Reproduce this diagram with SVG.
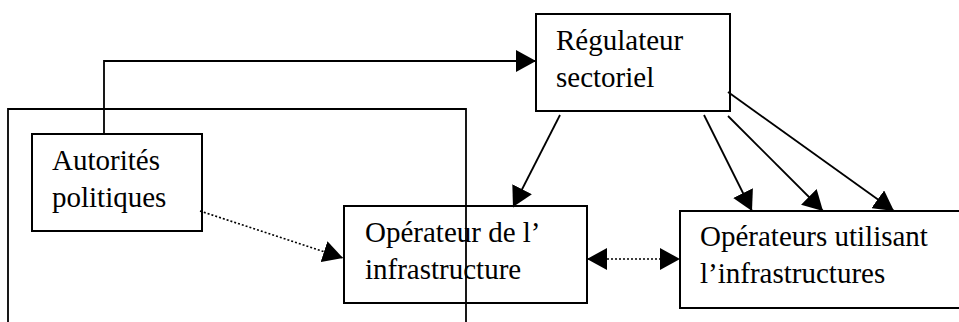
<svg xmlns="http://www.w3.org/2000/svg" width="959" height="322" viewBox="0 0 959 322">
<style>
.box{fill:none;stroke:#000;stroke-width:2}
text{font-family:'Liberation Serif','Times New Roman',Times,serif;font-size:29px;fill:#000}
.c{fill:none;stroke:#000;stroke-width:1.8}
.d{fill:none;stroke:#000;stroke-width:1.6;stroke-dasharray:2 2}
</style>
<defs>
<marker id="arr" markerUnits="userSpaceOnUse" markerWidth="21" markerHeight="22" refX="20" refY="11" orient="auto-start-reverse" viewBox="0 0 21 22">
<path d="M0,0 L20,11 L0,22 z" fill="#000"/>
</marker>
</defs>
<rect width="959" height="322" fill="#fff"/>
<g id="connectors">
<path class="c" d="M8,322 V109 H466 V322"/>
<path class="c" d="M104,134 V61 H536" marker-end="url(#arr)"/>
<path class="d" d="M200,211 L343,258" marker-end="url(#arr)"/>
<path class="c" d="M560,115 L513,207" marker-end="url(#arr)"/>
<path class="c" d="M704,115 L752,211" marker-end="url(#arr)"/>
<path class="c" d="M728,116 L823,211" marker-end="url(#arr)"/>
<path class="c" d="M728,92 L894,211" marker-end="url(#arr)"/>
<path class="d" d="M587,259 L680,259" marker-start="url(#arr)" marker-end="url(#arr)"/>
</g>
<g id="autorites">
<rect class="box" x="32" y="134" width="170" height="97"/>
<text x="52" y="170">Autorités</text>
<text x="52" y="207">politiques</text>
</g>
<g id="regulateur">
<rect class="box" x="536" y="14" width="194" height="97"/>
<text x="556" y="50">Régulateur</text>
<text x="556" y="87">sectoriel</text>
</g>
<g id="operateur-infra">
<rect class="box" x="344" y="206" width="243" height="97"/>
<text x="365" y="242">Opérateur de l’</text>
<text x="365" y="279">infrastructure</text>
</g>
<g id="operateurs-utilisant">
<rect class="box" x="680" y="211" width="300" height="97"/>
<text x="700" y="246">Opérateurs utilisant</text>
<text x="700" y="283">l’infrastructures</text>
</g>
</svg>
